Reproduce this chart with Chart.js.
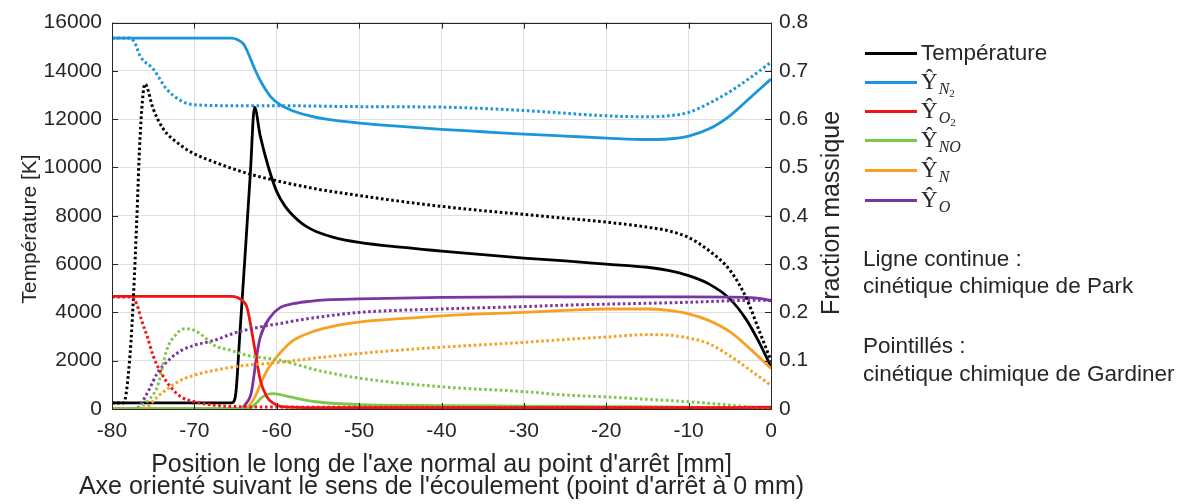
<!DOCTYPE html>
<html>
<head>
<meta charset="utf-8">
<script src="https://cdn.jsdelivr.net/npm/chart.js@4.4.1/dist/chart.umd.min.js"></script>
<style>
  html, body { margin: 0; padding: 0; background: #fff; }
  #wrap { position: relative; width: 1185px; height: 504px; overflow: hidden; font-family: "Liberation Sans", Arial, sans-serif; color: #262626; }
  #c { position: absolute; left: 0; top: 0; }
  .leg { position: absolute; left: 865px; height: 24px; }
  .leg .ln { position: absolute; left: 0; top: 11px; width: 52px; height: 3px; }
  .leg .tx { position: absolute; left: 56px; top: 0; white-space: nowrap; font-size: 22.5px; line-height: 24px; }
  .hat { font-family: "Liberation Serif", "DejaVu Serif", serif; font-size: 23px; }
  .sub { font-family: "Liberation Serif", "DejaVu Serif", serif; font-style: italic; font-size: 16px; position: relative; top: 5px; margin-left: 1px; }
  .sub2 { font-family: "Liberation Serif", serif; font-style: normal; font-size: 11px; position: relative; top: 3px; }
  .note { position: absolute; left: 863px; font-size: 22.5px; white-space: nowrap; }
</style>
</head>
<body>
<div id="wrap">
  <canvas id="c" width="1185" height="504"></canvas>
  <div class="leg" style="top:41px"><div class="ln" style="background:#000"></div><div class="tx">Température</div></div>
  <div class="leg" style="top:70px"><div class="ln" style="background:#1a96da"></div><div class="tx"><span class="hat">Ŷ</span><span class="sub">N<span class="sub2">2</span></span></div></div>
  <div class="leg" style="top:99px"><div class="ln" style="background:#f01414"></div><div class="tx"><span class="hat">Ŷ</span><span class="sub">O<span class="sub2">2</span></span></div></div>
  <div class="leg" style="top:128px"><div class="ln" style="background:#7cc84a"></div><div class="tx"><span class="hat">Ŷ</span><span class="sub">NO</span></div></div>
  <div class="leg" style="top:158px"><div class="ln" style="background:#f7a124"></div><div class="tx"><span class="hat">Ŷ</span><span class="sub">N</span></div></div>
  <div class="leg" style="top:188px"><div class="ln" style="background:#7a35a0"></div><div class="tx"><span class="hat">Ŷ</span><span class="sub">O</span></div></div>
  <div class="note" style="top:246px">Ligne continue :</div>
  <div class="note" style="top:273px">cinétique chimique de Park</div>
  <div class="note" style="top:333px">Pointillés :</div>
  <div class="note" style="top:361px">cinétique chimique de Gardiner</div>
</div>
<script>
// ---------- Data ----------
// Temperature [K], Park kinetics (solid)
const tParkX = [-80, -65.5, -65.1, -64.9, -64.5, -63.8, -63.2, -62.7, -62, -61, -60, -59, -58, -57, -56, -55, -53, -50, -45, -40, -35, -30, -25, -20, -15, -12.5, -10, -7.5, -5, -3, -1.5, 0];
const tParkY = [250, 250, 400, 900, 3000, 6600, 9800, 12500, 11300, 10000, 9000, 8400, 8000, 7700, 7480, 7320, 7100, 6900, 6700, 6540, 6390, 6250, 6130, 6000, 5870, 5740, 5520, 5170, 4560, 3700, 2800, 1750];
// Temperature [K], Gardiner kinetics (dotted)
const tGardX = [-80, -78.6, -77.8, -77.4, -77.0, -76.6, -76.0, -75.0, -73.8, -71.7, -70.1, -67.7, -63.6, -59.6, -55, -50, -45, -40, -35, -30, -25, -20, -15, -12.5, -10, -7.5, -5, -3, -1.5, 0];
const tGardY = [250, 250, 2290, 4620, 7770, 11200, 13460, 12430, 11610, 10930, 10580, 10240, 9760, 9420, 9100, 8840, 8600, 8390, 8210, 8060, 7900, 7740, 7530, 7380, 7100, 6550, 5750, 4600, 3300, 2000];

// Mass fractions, Park (solid)
const n2ParkX = [-80, -65.5, -64.8, -64, -63.5, -62.7, -61.9, -60.8, -59.6, -58, -56, -54, -50, -45, -40, -35, -30, -25, -20, -15, -12.5, -10, -7.5, -5, -2.5, 0];
const n2ParkY = [0.768, 0.768, 0.765, 0.755, 0.738, 0.705, 0.677, 0.648, 0.63, 0.617, 0.607, 0.6, 0.592, 0.585, 0.579, 0.574, 0.569, 0.565, 0.561, 0.558, 0.559, 0.565, 0.58, 0.607, 0.645, 0.683];
const o2ParkX = [-80, -65.5, -64.8, -64, -63.6, -62.7, -62, -61.2, -60.4, -59.5, -55, -30, -5, 0];
const o2ParkY = [0.233, 0.233, 0.231, 0.222, 0.21, 0.128, 0.06, 0.025, 0.012, 0.005, 0.003, 0.003, 0.003, 0.004];
const noParkX = [-80, -63.5, -63, -62.5, -61.8, -61, -60.4, -58.4, -55.2, -49.8, -40, -30, -20, -10, -5, 0];
const noParkY = [0, 0, 0.004, 0.012, 0.024, 0.031, 0.032, 0.025, 0.015, 0.009, 0.007, 0.006, 0.005, 0.004, 0.002, 0];
const nParkX = [-80, -64, -63.2, -62.5, -61.9, -61, -60, -59, -58, -56, -54, -52, -50, -45, -40, -35, -30, -25, -20, -15, -12.5, -10, -7.5, -5, -2.5, 0];
const nParkY = [0, 0, 0.01, 0.03, 0.055, 0.085, 0.108, 0.127, 0.142, 0.158, 0.168, 0.175, 0.18, 0.187, 0.193, 0.197, 0.2, 0.204, 0.207, 0.207, 0.204, 0.197, 0.183, 0.16, 0.124, 0.084];
const oParkX = [-80, -64.3, -63.8, -63.1, -62.4, -62, -60.8, -59.6, -58, -56, -54, -50, -40, -30, -20, -10, -3, -1, 0];
const oParkY = [0, 0, 0.01, 0.033, 0.114, 0.149, 0.19, 0.21, 0.218, 0.223, 0.226, 0.228, 0.231, 0.232, 0.232, 0.232, 0.231, 0.228, 0.224];

// Mass fractions, Gardiner (dotted)
const n2GardX = [-80, -77.8, -77.2, -76.6, -75.0, -73.4, -71.7, -70.1, -65, -60, -50, -40, -30, -20, -15, -12.5, -10, -7.5, -5, -2.5, 0];
const n2GardY = [0.768, 0.768, 0.757, 0.731, 0.704, 0.663, 0.639, 0.63, 0.628, 0.628, 0.626, 0.625, 0.618, 0.607, 0.605, 0.607, 0.614, 0.633, 0.657, 0.686, 0.718];
const o2GardX = [-80, -77.6, -77.0, -76.4, -75.7, -75, -74, -73, -71.6, -70, -67.6, -65, -60, 0];
const o2GardY = [0.232, 0.232, 0.217, 0.183, 0.149, 0.11, 0.074, 0.048, 0.025, 0.015, 0.008, 0.005, 0.004, 0.003];
const noGardX = [-80, -77.5, -76.5, -75.5, -74.5, -73.3, -72.5, -71.2, -70, -69, -67.6, -65.5, -63.6, -59.6, -55, -50, -40, -30, -25, -20, -15, -10, -5, -2, 0];
const noGardY = [0, 0, 0.005, 0.02, 0.046, 0.125, 0.149, 0.166, 0.163, 0.152, 0.132, 0.121, 0.111, 0.101, 0.08, 0.064, 0.046, 0.036, 0.029, 0.025, 0.02, 0.015, 0.008, 0.003, 0];
const nGardX = [-80, -76.5, -75.7, -74.5, -73, -71.6, -70, -67.6, -64, -62, -59.5, -55, -50, -45, -40, -35, -30, -25, -20, -15, -12.5, -10, -7.5, -5, -2.5, 0];
const nGardY = [0, 0, 0.005, 0.025, 0.045, 0.06, 0.07, 0.08, 0.09, 0.093, 0.097, 0.106, 0.115, 0.122, 0.128, 0.133, 0.138, 0.144, 0.149, 0.154, 0.153, 0.147, 0.135, 0.11, 0.08, 0.049];
const oGardX = [-80, -77, -76.5, -75.5, -74.5, -73, -71.6, -70, -67.6, -65, -62, -59.6, -57, -55, -50, -40, -30, -25, -20, -10, -5, -2, 0];
const oGardY = [0, 0, 0.01, 0.04, 0.074, 0.103, 0.121, 0.132, 0.142, 0.158, 0.17, 0.177, 0.185, 0.19, 0.2, 0.207, 0.212, 0.215, 0.217, 0.221, 0.224, 0.225, 0.225];

// Axis ticks and titles
const xTicks = [-80, -70, -60, -50, -40, -30, -20, -10, 0];
const tempTicks = [0, 2000, 4000, 6000, 8000, 10000, 12000, 14000, 16000];
const fracTicks = [0, 0.1, 0.2, 0.3, 0.4, 0.5, 0.6, 0.7, 0.8];
const xTitle = ["Position le long de l'axe normal au point d'arrêt [mm]", "Axe orienté suivant le sens de l'écoulement (point d'arrêt à 0 mm)"];
const yTitle = 'Température [K]';
const y1Title = 'Fraction massique';

// ---------- Styles ----------
const COLORS = { T: '#000000', N2: '#1a96da', O2: '#f01414', NO: '#7cc84a', N: '#f7a124', O: '#7a35a0' };
const TEXT = '#262626';
const FONT = '"Liberation Sans", Arial, sans-serif';

function pts(xs, ys) { return xs.map((x, i) => ({ x: x, y: ys[i] })); }
function ds(label, xs, ys, color, axis, dotted) {
  return {
    label: label, data: pts(xs, ys), borderColor: color, backgroundColor: color,
    yAxisID: axis, borderWidth: dotted ? 3 : 2.8, pointRadius: 0, fill: false,
    cubicInterpolationMode: 'monotone', borderDash: dotted ? [2.6, 2.6] : [],
    borderCapStyle: 'butt', borderJoinStyle: 'round'
  };
}

const datasets = [
  ds('O2 Gardiner', o2GardX, o2GardY, COLORS.O2, 'y1', true),
  ds('NO Gardiner', noGardX, noGardY, COLORS.NO, 'y1', true),
  ds('N Gardiner', nGardX, nGardY, COLORS.N, 'y1', true),
  ds('O Gardiner', oGardX, oGardY, COLORS.O, 'y1', true),
  ds('N2 Gardiner', n2GardX, n2GardY, COLORS.N2, 'y1', true),
  ds('T Gardiner', tGardX, tGardY, COLORS.T, 'y', true),
  ds('O2 Park', o2ParkX, o2ParkY, COLORS.O2, 'y1', false),
  ds('NO Park', noParkX, noParkY, COLORS.NO, 'y1', false),
  ds('N Park', nParkX, nParkY, COLORS.N, 'y1', false),
  ds('O Park', oParkX, oParkY, COLORS.O, 'y1', false),
  ds('N2 Park', n2ParkX, n2ParkY, COLORS.N2, 'y1', false),
  ds('Température', tParkX, tParkY, COLORS.T, 'y', false)
];

// Box, inward ticks, axis titles
const frame = {
  id: 'frame',
  afterDatasetsDraw(chart) {
    const { ctx, chartArea: a, scales } = chart;
    ctx.save();
    ctx.strokeStyle = TEXT; ctx.lineWidth = 1;
    ctx.beginPath();
    ctx.rect(Math.round(a.left) + 0.5, Math.round(a.top) + 0.5, Math.round(a.right - a.left), Math.round(a.bottom - a.top));
    ctx.stroke();
    const L = 6;
    ctx.beginPath();
    scales.x.ticks.forEach(t => {
      const px = Math.round(scales.x.getPixelForValue(t.value)) + 0.5;
      ctx.moveTo(px, a.bottom); ctx.lineTo(px, a.bottom - L);
      ctx.moveTo(px, a.top); ctx.lineTo(px, a.top + L);
    });
    scales.y.ticks.forEach(t => {
      const py = Math.round(scales.y.getPixelForValue(t.value)) + 0.5;
      ctx.moveTo(a.left, py); ctx.lineTo(a.left + L, py);
    });
    scales.y1.ticks.forEach(t => {
      const py = Math.round(scales.y1.getPixelForValue(t.value)) + 0.5;
      ctx.moveTo(a.right, py); ctx.lineTo(a.right - L, py);
    });
    ctx.stroke();
    ctx.fillStyle = TEXT;
    ctx.textAlign = 'center';
    // x title (two lines, centred on the plot area)
    ctx.textBaseline = 'alphabetic';
    ctx.font = '25px ' + FONT;
    const cx = (a.left + a.right) / 2;
    ctx.fillText(xTitle[0], cx, 472);
    ctx.fillText(xTitle[1], cx, 494);
    // y titles
    ctx.textBaseline = 'middle';
    ctx.font = '21px ' + FONT;
    ctx.translate(30, 229); ctx.rotate(-Math.PI / 2);
    ctx.fillText(yTitle, 0, 0);
    ctx.setTransform(1, 0, 0, 1, 0, 0);
    ctx.font = '25px ' + FONT;
    ctx.translate(832, 213); ctx.rotate(-Math.PI / 2);
    ctx.fillText(y1Title, 0, 0);
    ctx.restore();
  }
};

new Chart(document.getElementById('c'), {
  type: 'line',
  data: { datasets: datasets },
  plugins: [frame],
  options: {
    responsive: false, animation: false, devicePixelRatio: 1,
    layout: { padding: { top: 20, left: 0, right: 0, bottom: 0 } },
    plugins: { legend: { display: false }, tooltip: { enabled: false } },
    scales: {
      x: {
        type: 'linear', min: -80, max: 0,
        afterBuildTicks(s) { s.ticks = xTicks.map(v => ({ value: v })); },
        afterFit(s) { s.height = 95; },
        grid: { color: '#dedede', lineWidth: 1, drawTicks: false },
        border: { display: false },
        ticks: { color: TEXT, font: { family: FONT, size: 21 }, padding: 10, maxRotation: 0, callback: v => String(v) },
        title: { display: false }
      },
      y: {
        type: 'linear', position: 'left', min: 0, max: 16000,
        afterBuildTicks(s) { s.ticks = tempTicks.map(v => ({ value: v })); },
        afterFit(s) { s.width = 112; },
        grid: { color: '#dedede', lineWidth: 1, drawTicks: false },
        border: { display: false },
        ticks: { color: TEXT, font: { family: FONT, size: 21 }, padding: 10, callback: v => String(v) }
      },
      y1: {
        type: 'linear', position: 'right', min: 0, max: 0.8,
        afterBuildTicks(s) { s.ticks = fracTicks.map(v => ({ value: v })); },
        afterFit(s) { s.width = 414; },
        grid: { display: false, drawTicks: false },
        border: { display: false },
        ticks: { color: TEXT, font: { family: FONT, size: 21 }, padding: 8, callback: v => String(Math.round(v * 10) / 10) }
      }
    }
  }
});
</script>
</body>
</html>
